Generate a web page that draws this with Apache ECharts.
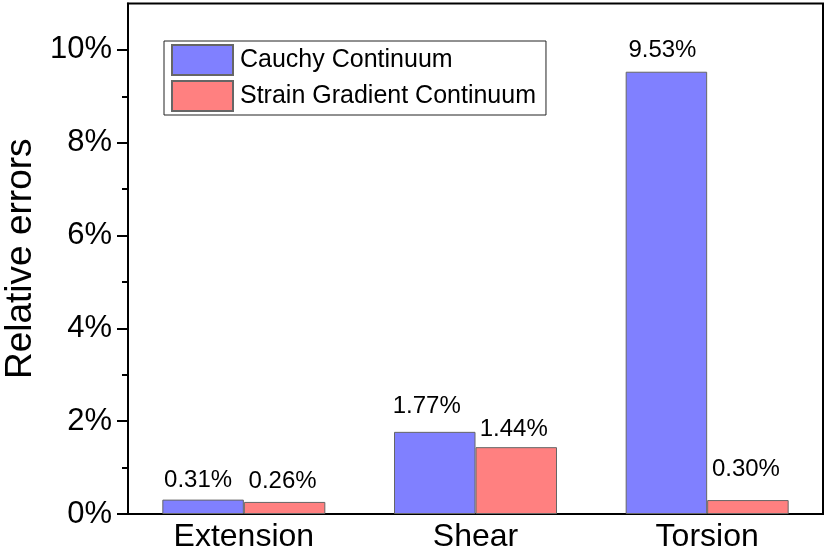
<!DOCTYPE html>
<html>
<head>
<meta charset="utf-8">
<script src="https://cdn.jsdelivr.net/npm/echarts@6/dist/echarts.min.js"></script>
<style>
html,body{margin:0;padding:0;background:#fff;}
#chart{width:827px;height:553px;}
</style>
</head>
<body>
<div id="chart"></div>
<script>
const categories = ['Extension', 'Shear', 'Torsion'];
const cauchy = [0.31, 1.77, 9.53];
const strainGradient = [0.26, 1.44, 0.30];
const yTicks = [0, 2, 4, 6, 8, 10];
const yMinorTicks = [1, 3, 5, 7, 9];

// label placement tweaks (style only)
const cauchyLabelLift = [7, 13, 9];
const cauchyLabelShift = [-5, -8, -4];
const sgLabelLift = [9, 5.5, 19];
const sgLabelShift = [-2, -2.5, -2];

const FONT = "'Liberation Sans', Arial, sans-serif";

function build(values, lift, shift) {
  return values.map((v, i) => ({
    value: v,
    label: { distance: lift[i], offset: [shift[i], 0] }
  }));
}

const chart = echarts.init(document.getElementById('chart'), null, {renderer: 'canvas'});
const labelCommon = {
  show: true,
  position: 'top',
  color: '#000',
  fontFamily: FONT,
  fontSize: 24,
  formatter: p => p.value.toFixed(2) + '%'
};
chart.setOption({
  backgroundColor: '#fff',
  animation: false,
  textStyle: { fontFamily: FONT },
  grid: {
    left: 128, right: 4, top: 3.5, bottom: 39,
    containLabel: false,
    outerBoundsMode: 'none',
    show: true, borderColor: '#000', borderWidth: 2, backgroundColor: 'transparent'
  },
  legend: {
    left: 164, top: 41,
    orient: 'vertical',
    icon: 'rect',
    itemWidth: 61, itemHeight: 30, itemGap: 4,
    padding: [3, 10, 3, 7],
    borderColor: '#222', borderWidth: 1,
    textStyle: { fontFamily: FONT, fontSize: 25, color: '#000', padding: [0, 0, 0, 2] },
    data: ['Cauchy Continuum', 'Strain Gradient Continuum']
  },
  xAxis: {
    type: 'category',
    data: categories,
    axisLine: { show: true, lineStyle: { color: '#000', width: 2 } },
    axisTick: { show: false },
    axisLabel: { color: '#000', fontFamily: FONT, fontSize: 32, margin: 7 }
  },
  yAxis: [{
    type: 'value',
    min: 0, max: 11,
    position: 'left',
    name: 'Relative errors',
    nameLocation: 'middle',
    nameGap: 88,
    nameTextStyle: { color: '#000', fontFamily: FONT, fontSize: 37 },
    axisLine: { show: true, lineStyle: { color: '#000', width: 2 } },
    axisTick: { show: true, customValues: yTicks, length: 11, lineStyle: { color: '#000', width: 2 } },
    axisLabel: { customValues: yTicks, formatter: '{value}%', color: '#000', fontFamily: FONT, fontSize: 31, margin: 16 },
    splitLine: { show: false }
  }, {
    type: 'value',
    min: 0, max: 11,
    position: 'left',
    offset: 0,
    axisLine: { show: false },
    axisTick: { show: true, customValues: yMinorTicks, length: 6, lineStyle: { color: '#000', width: 2 } },
    axisLabel: { show: false },
    splitLine: { show: false }
  }],
  series: [{
    name: 'Cauchy Continuum',
    type: 'bar',
    barWidth: 81.5,
    barGap: 0,
    itemStyle: { color: '#8080FF', borderColor: '#666', borderWidth: 1 },
    label: labelCommon,
    data: build(cauchy, cauchyLabelLift, cauchyLabelShift)
  }, {
    name: 'Strain Gradient Continuum',
    type: 'bar',
    barWidth: 81.5,
    barGap: 0,
    itemStyle: { color: '#FF8080', borderColor: '#666', borderWidth: 1 },
    label: labelCommon,
    data: build(strainGradient, sgLabelLift, sgLabelShift)
  }]
});
</script>
</body>
</html>
